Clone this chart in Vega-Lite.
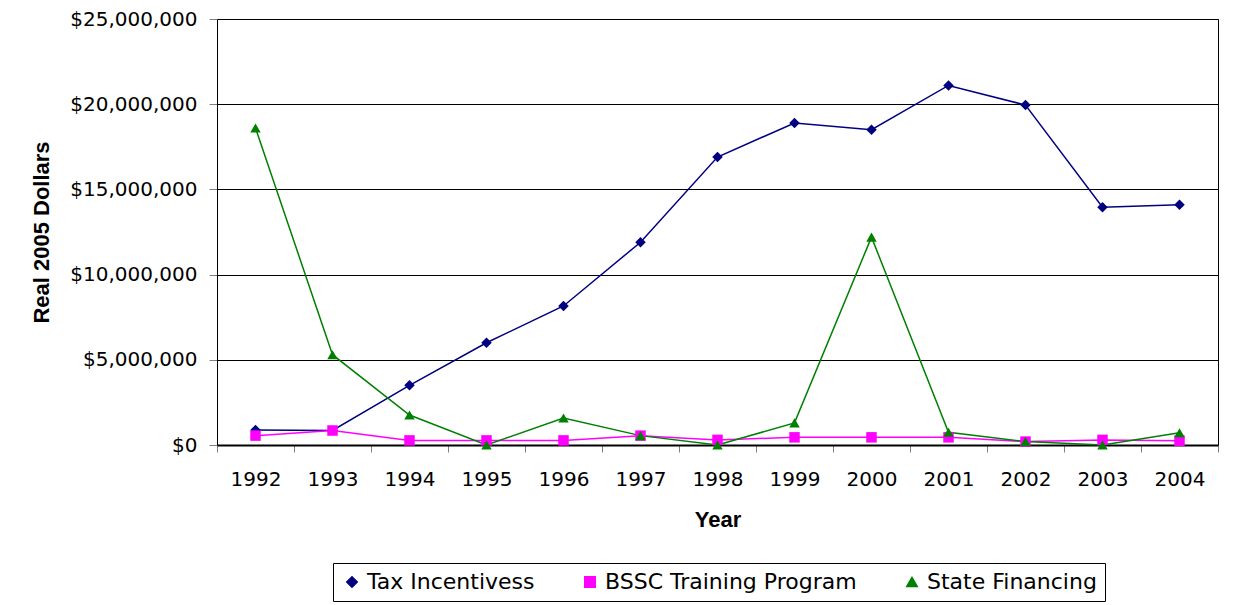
{
  "$schema": "https://vega.github.io/schema/vega-lite/v6.json",
  "autosize": {"type": "none"},
  "width": 1001,
  "height": 426,
  "padding": {"left": 217, "top": 19, "right": 15, "bottom": 160},
  "background": "white",
  "config": {
    "font": "DejaVu Sans",
    "view": {"stroke": "#000000", "strokeWidth": 1},
    "axis": {"labelColor": "black", "titleColor": "black", "labelFont": "DejaVu Sans", "titleFont": "Liberation Sans"},
    "legend": {"labelFont": "DejaVu Sans", "labelColor": "black", "labelFontSize": 22, "labelLimit": 500}
  },
  "data": {
    "values": [
      {"year": "1992", "series": "Tax Incentivess", "value": 880000},
      {"year": "1993", "series": "Tax Incentivess", "value": 850000},
      {"year": "1994", "series": "Tax Incentivess", "value": 3500000},
      {"year": "1995", "series": "Tax Incentivess", "value": 6000000},
      {"year": "1996", "series": "Tax Incentivess", "value": 8160000},
      {"year": "1997", "series": "Tax Incentivess", "value": 11900000},
      {"year": "1998", "series": "Tax Incentivess", "value": 16900000},
      {"year": "1999", "series": "Tax Incentivess", "value": 18900000},
      {"year": "2000", "series": "Tax Incentivess", "value": 18500000},
      {"year": "2001", "series": "Tax Incentivess", "value": 21100000},
      {"year": "2002", "series": "Tax Incentivess", "value": 19950000},
      {"year": "2003", "series": "Tax Incentivess", "value": 13950000},
      {"year": "2004", "series": "Tax Incentivess", "value": 14100000},
      {"year": "1992", "series": "BSSC Training Program", "value": 550000},
      {"year": "1993", "series": "BSSC Training Program", "value": 850000},
      {"year": "1994", "series": "BSSC Training Program", "value": 270000},
      {"year": "1995", "series": "BSSC Training Program", "value": 270000},
      {"year": "1996", "series": "BSSC Training Program", "value": 270000},
      {"year": "1997", "series": "BSSC Training Program", "value": 550000},
      {"year": "1998", "series": "BSSC Training Program", "value": 300000},
      {"year": "1999", "series": "BSSC Training Program", "value": 450000},
      {"year": "2000", "series": "BSSC Training Program", "value": 450000},
      {"year": "2001", "series": "BSSC Training Program", "value": 450000},
      {"year": "2002", "series": "BSSC Training Program", "value": 200000},
      {"year": "2003", "series": "BSSC Training Program", "value": 300000},
      {"year": "2004", "series": "BSSC Training Program", "value": 250000},
      {"year": "1992", "series": "State Financing", "value": 18600000},
      {"year": "1993", "series": "State Financing", "value": 5300000},
      {"year": "1994", "series": "State Financing", "value": 1760000},
      {"year": "1995", "series": "State Financing", "value": 0},
      {"year": "1996", "series": "State Financing", "value": 1580000},
      {"year": "1997", "series": "State Financing", "value": 550000},
      {"year": "1998", "series": "State Financing", "value": 0},
      {"year": "1999", "series": "State Financing", "value": 1300000},
      {"year": "2000", "series": "State Financing", "value": 12200000},
      {"year": "2001", "series": "State Financing", "value": 750000},
      {"year": "2002", "series": "State Financing", "value": 200000},
      {"year": "2003", "series": "State Financing", "value": 0},
      {"year": "2004", "series": "State Financing", "value": 720000}
    ]
  },
  "encoding": {
    "x": {
      "field": "year", "type": "ordinal", "bandPosition": 0.5,
      "scale": {"type": "band", "paddingInner": 0, "paddingOuter": 0},
      "axis": {
        "title": "Year", "titleFontSize": 22, "titleFontWeight": "bold", "titlePadding": 20,
        "labelAngle": 0, "labelFontSize": 20, "labelPadding": 17,
        "tickBand": "extent", "tickColor": "#808080", "tickSize": 7,
        "domainColor": "black", "domainWidth": 2, "grid": false
      }
    },
    "y": {
      "field": "value", "type": "quantitative",
      "scale": {"domain": [0, 25000000], "nice": false},
      "axis": {
        "title": "Real 2005 Dollars", "titleFontSize": 22, "titleFontWeight": "bold",
        "titleX": -164, "titleY": 213,
        "values": [0, 5000000, 10000000, 15000000, 20000000, 25000000],
        "format": "$,.0f", "labelFontSize": 20, "labelPadding": 12,
        "tickColor": "#808080", "tickSize": 8, "domainColor": "black",
        "grid": true, "gridColor": "black", "gridOpacity": 1, "gridWidth": 1
      }
    },
    "color": {
      "field": "series", "type": "nominal",
      "scale": {"domain": ["Tax Incentivess", "BSSC Training Program", "State Financing"], "range": ["#000080", "#FF00FF", "#008000"]},
      "legend": {
        "title": null, "orient": "none", "direction": "horizontal",
        "legendX": 116, "legendY": 544,
        "symbolSize": 110, "strokeColor": "black", "padding": 8, "columnPadding": 44
      }
    }
  },
  "layer": [
    {"mark": {"type": "line", "strokeWidth": 1.5}},
    {
      "mark": {"type": "point", "filled": true, "opacity": 1, "size": 110},
      "encoding": {
        "shape": {
          "field": "series", "type": "nominal",
          "scale": {"domain": ["Tax Incentivess", "BSSC Training Program", "State Financing"], "range": ["diamond", "square", "triangle-up"]},
          "legend": {
            "title": null, "orient": "none", "direction": "horizontal",
            "legendX": 116, "legendY": 544,
            "symbolSize": 110, "strokeColor": "black", "padding": 8, "columnPadding": 44
          }
        }
      }
    }
  ]
}
